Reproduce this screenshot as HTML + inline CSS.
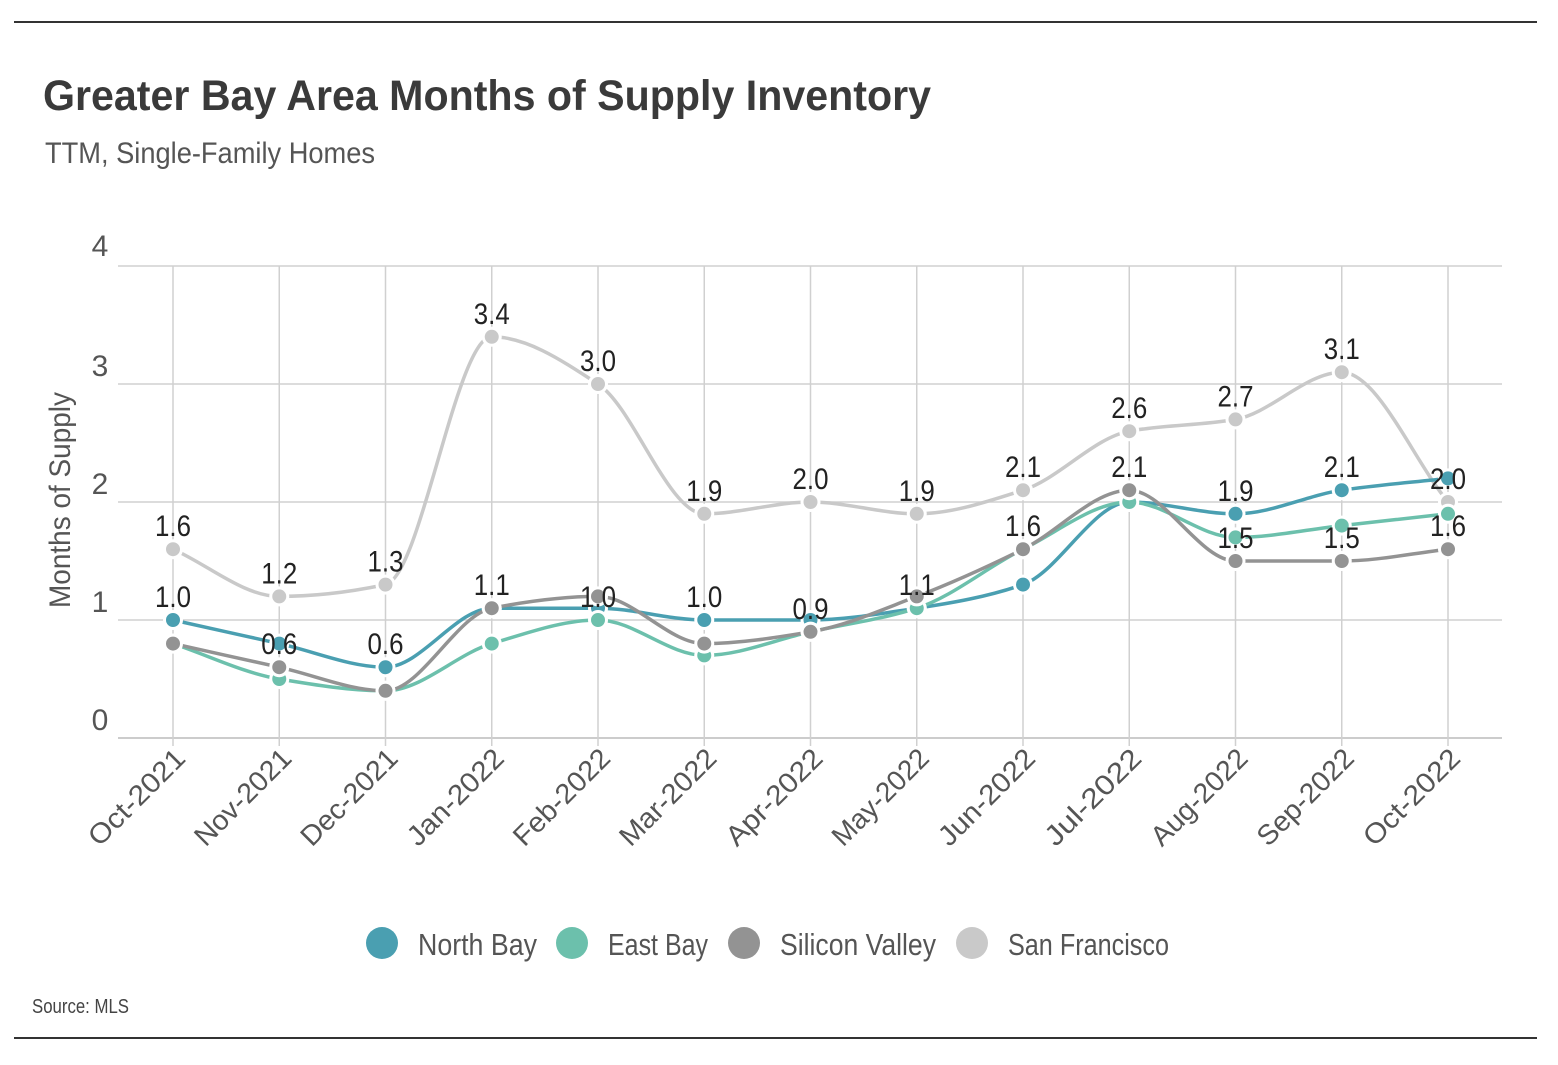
<!DOCTYPE html>
<html><head><meta charset="utf-8"><style>
body{margin:0;background:#fff;}
svg text{font-family:"Liberation Sans Narrow","Liberation Sans",sans-serif;}
</style></head><body>
<svg id="chart" width="1558" height="1060" xmlns="http://www.w3.org/2000/svg">
<line x1="14" y1="22" x2="1537" y2="22" stroke="#333" stroke-width="2"/>
<line x1="14" y1="1038" x2="1537" y2="1038" stroke="#333" stroke-width="2"/>
<text x="43" y="110" font-size="43" font-weight="bold" fill="#3a3a3a" textLength="888" lengthAdjust="spacingAndGlyphs">Greater Bay Area Months of Supply Inventory</text>
<text x="45" y="163" font-size="30" fill="#555" textLength="330" lengthAdjust="spacingAndGlyphs">TTM, Single-Family Homes</text>
<text transform="translate(70,500) rotate(-90)" text-anchor="middle" font-size="30" fill="#555" textLength="216" lengthAdjust="spacingAndGlyphs">Months of Supply</text>
<g id="grid"></g><g id="series"></g><g id="labels"></g>
<g id="legend"></g>
<text x="32" y="1013" font-size="20" fill="#444" textLength="97" lengthAdjust="spacingAndGlyphs">Source:  MLS</text>
</svg>
<script>
const categories=["Oct-2021","Nov-2021","Dec-2021","Jan-2022","Feb-2022","Mar-2022","Apr-2022","May-2022","Jun-2022","Jul-2022","Aug-2022","Sep-2022","Oct-2022"];
const yTicks=[0,1,2,3,4];
const northBay=[1.0,0.8,0.6,1.1,1.1,1.0,1.0,1.1,1.3,2.0,1.9,2.1,2.2];
const eastBay=[0.8,0.5,0.4,0.8,1.0,0.7,0.9,1.1,1.6,2.0,1.7,1.8,1.9];
const siliconValley=[0.8,0.6,0.4,1.1,1.2,0.8,0.9,1.2,1.6,2.1,1.5,1.5,1.6];
const sanFrancisco=[1.6,1.2,1.3,3.4,3.0,1.9,2.0,1.9,2.1,2.6,2.7,3.1,2.0];
const northBayLabels=[0,2,3,5,10,11];
const eastBayLabels=[4,7];
const siliconValleyLabels=[1,6,8,9,10,11,12];
const sanFranciscoLabels=[0,1,2,3,4,5,6,7,8,9,10,11,12];
const NS="http://www.w3.org/2000/svg";
const x=i=>173+i*106.25;
const y=v=>738-v*118;
function mk(t,a,p){const e=document.createElementNS(NS,t);for(const k in a)e.setAttribute(k,a[k]);p.appendChild(e);return e;}
const grid=document.getElementById('grid');
yTicks.forEach(t=>{
  const l=mk('line',{x1:118,x2:1502,y1:y(t),y2:y(t),stroke:t==0?'#bbb':'#d0d0d0','stroke-width':1.5},grid);
  
  
  const tx=mk('text',{x:100,y:y(t)+(t==4?-10:-8),'text-anchor':'middle','font-size':30,fill:'#555'},grid);
  tx.textContent=t;
  
  
});
categories.forEach((c,i)=>{
  const l=mk('line',{x1:x(i),x2:x(i),y1:y(4),y2:y(0)+8,stroke:'#d0d0d0','stroke-width':1.5},grid);
  
  
  const tx=mk('text',{transform:`translate(${x(i)+14},${y(0)+22}) rotate(-45)`,'text-anchor':'end','font-size':28,fill:'#555',textLength:124,lengthAdjust:'spacingAndGlyphs'},grid);
  tx.textContent=c;
  
  
});
function pathD(vals){
  const p=vals.map((v,i)=>[x(i),y(v)]);const n=p.length;
  const d=[],m=[];
  for(let i=0;i<n-1;i++)d.push((p[i+1][1]-p[i][1])/(p[i+1][0]-p[i][0]));
  for(let i=0;i<n;i++){
    if(i==0)m.push(d[0]);else if(i==n-1)m.push(d[n-2]);
    else if(d[i-1]*d[i]<=0)m.push(0);
    else m.push(2/(1/d[i-1]+1/d[i]));
  }
  let s=`M${p[0][0]},${p[0][1]}`;
  for(let i=0;i<n-1;i++){const h=(p[i+1][0]-p[i][0])/3;
    s+=` C${p[i][0]+h},${p[i][1]+m[i]*h} ${p[i+1][0]-h},${p[i+1][1]-m[i+1]*h} ${p[i+1][0]},${p[i+1][1]}`;}
  return s;}
const seriesG=document.getElementById('series'),labG=document.getElementById('labels');
const S=[["san-francisco",sanFrancisco,"#c9c9c9",sanFranciscoLabels],["north-bay",northBay,"#4a9fb1",northBayLabels],["east-bay",eastBay,"#6cc0ac",eastBayLabels],["silicon-valley",siliconValley,"#939393",siliconValleyLabels]];
S.forEach(([n,vals,col,labs])=>{
  const g=mk('g',{},seriesG);
  
  
  const p=mk('path',{d:pathD(vals),fill:'none',stroke:col,'stroke-width':3.5},g);
  
  
  vals.forEach((v,i)=>{
    const c=mk('circle',{cx:x(i),cy:y(v),r:8.5,fill:col,stroke:'#fff','stroke-width':3},g);
    
    
  });
  labs.forEach(i=>{
    const t=mk('text',{x:x(i),y:y(vals[i])-13,'text-anchor':'middle','font-size':30,fill:'#222',textLength:36,lengthAdjust:'spacingAndGlyphs'},labG);
    t.textContent=vals[i].toFixed(1);
    
    
  });
});
const leg=document.getElementById('legend');
[["North Bay","#4a9fb1",382,119],["East Bay","#6cc0ac",572,100],["Silicon Valley","#939393",744,156],["San Francisco","#c9c9c9",972,161]].forEach(([t,c,cx,w])=>{
  const g=mk('g',{},leg);
  
  
  mk('circle',{cx:cx,cy:943,r:16,fill:c},g);
  const tx=mk('text',{x:cx+36,y:955,'font-size':31,fill:'#555',textLength:w,lengthAdjust:'spacingAndGlyphs'},g);
  tx.textContent=t;
});
</script>
</body></html>
